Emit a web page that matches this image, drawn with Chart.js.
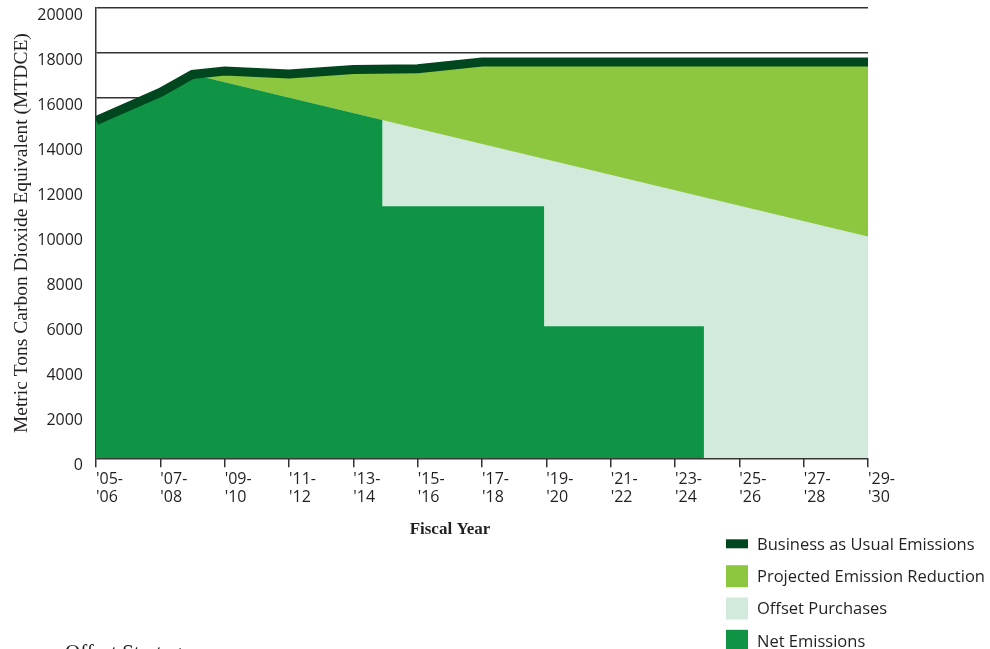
<!DOCTYPE html>
<html><head><meta charset="utf-8">
<script src="https://cdn.jsdelivr.net/npm/chart.js@4.4.1/dist/chart.umd.min.js"></script>
<style>
html,body{margin:0;padding:0;background:#fff;overflow:hidden;}
#wrap{position:relative;width:990px;height:649px;}
#heading{position:absolute;left:65px;top:642px;font:21px/1 "Liberation Serif",serif;color:#231f20;white-space:nowrap;}
</style></head><body>
<div id="wrap"><canvas id="c"></canvas><div id="heading">Offset Strategy</div></div>
<script>
// ---- tick labels ----
const tickYears  = [2005,2007,2009,2011,2013,2015,2017,2019,2021,2023,2025,2027,2029];
const tickLabels = ["'05-'06","'07-'08","'09-'10","'11-'12","'13-'14","'15-'16","'17-'18","'19-'20","'21-'22","'23-'24","'25-'26","'27-'28","'29-'30"];
const yTickValues = [0,2000,4000,6000,8000,10000,12000,14000,16000,18000,20000];

// ---- series (fiscal year start, MTDCE) ----
const bauYears  = [2005, 2007, 2008, 2009, 2011, 2013, 2015, 2017, 2029];
const bauValues = [15000, 16250, 17050, 17200, 17070, 17270, 17300, 17600, 17600];

const reductionPathYears  = [2005, 2007, 2008, 2029];
const reductionPathValues = [15000, 16250, 17050, 9850];

const netYears  = [2005, 2007, 2008, 2013.9, 2013.9, 2018.93, 2018.93, 2023.9, 2023.9];
const netValues = [15000, 16250, 17050, 15030, 11200, 11200, 5870, 5870, 0];

const seriesNames  = ['Business as Usual Emissions','Projected Emission Reduction','Offset Purchases','Net Emissions'];
const seriesColors = ['#00461e','#8dc63f','#d2eadc','#0f9345'];

const yAxisTitle = 'Metric Tons Carbon Dioxide Equivalent (MTDCE)';
const xAxisTitle = 'Fiscal Year';

const pts = (xs, ys) => xs.map((x, i) => ({x, y: ys[i]}));

const customDraw = {
  id: 'customDraw',
  afterDraw(chart) {
    const ctx = chart.ctx;
    ctx.save();
    ctx.fillStyle = '#231f20';
    ctx.font = 'bold 17px "Liberation Serif"';
    ctx.textAlign = 'center';
    ctx.textBaseline = 'middle';
    ctx.fillText(xAxisTitle, 450, 530);
    // legend
    const rows = [543.8, 576.2, 608.5, 640.8];
    const heights = [9, 22, 22, 22];
    ctx.font = '16.5px "Open Sans"';
    ctx.textAlign = 'left';
    seriesNames.forEach((name, i) => {
      ctx.fillStyle = seriesColors[i];
      ctx.fillRect(726, rows[i] - heights[i] / 2, 22, heights[i]);
      ctx.fillStyle = '#231f20';
      ctx.fillText(name, 757, rows[i] + 1);
    });
    ctx.restore();
  }
};

new Chart(document.getElementById('c'), {
  type: 'line',
  data: {
    datasets: [
      { label: seriesNames[0], data: pts(bauYears, bauValues), borderColor: seriesColors[0], backgroundColor: seriesColors[0],
        borderWidth: 9, fill: false, pointRadius: 0, tension: 0, borderJoinStyle: 'miter', borderCapStyle: 'butt' },
      { label: seriesNames[3], data: pts(netYears, netValues), backgroundColor: seriesColors[3],
        borderWidth: 0, fill: 'origin', pointRadius: 0, tension: 0 },
      { label: seriesNames[2], data: pts(reductionPathYears, reductionPathValues), backgroundColor: seriesColors[2],
        borderWidth: 0, fill: 'origin', pointRadius: 0, tension: 0 },
      { label: seriesNames[1], data: pts(bauYears, bauValues), backgroundColor: seriesColors[1],
        borderWidth: 0, fill: 'origin', pointRadius: 0, tension: 0 }
    ]
  },
  options: {
    responsive: true,
    maintainAspectRatio: false,
    animation: false,
    layout: { padding: { top: 8, left: 0, right: 122, bottom: 0 } },
    plugins: { legend: { display: false }, tooltip: { enabled: false } },
    scales: {
      x: {
        type: 'linear', min: 2005, max: 2029,
        afterBuildTicks: (s) => { s.ticks = tickYears.map(v => ({value: v})); },
        afterFit: (s) => { s.height = 649 - 458.3; },
        ticks: {
          align: 'start', padding: 3, color: '#231f20', autoSkip: false, maxRotation: 0,
          font: { family: 'Open Sans', size: 16, lineHeight: 1.15 },
          callback: (v) => { const i = tickYears.indexOf(v); if (i < 0) return ''; const t = tickLabels[i]; return [t.slice(0, 4), t.slice(4)]; }
        },
        grid: { drawOnChartArea: false, drawTicks: true, tickLength: 9, color: '#333', lineWidth: 1.5 },
        border: { display: false }
      },
      y: {
        min: 0, max: 20000,
        afterBuildTicks: (s) => { s.ticks = yTickValues.map(v => ({value: v})); },
        afterFit: (s) => { s.width = 96; s.paddingTop = 0; s.paddingBottom = 0; },
        ticks: { padding: 13, labelOffset: 7, color: '#231f20', font: { family: 'Open Sans', size: 16, lineHeight: 1 },
                 callback: (v) => String(v) },
        grid: { drawTicks: false, color: '#333', lineWidth: 1.5 },
        border: { display: true, color: '#333', width: 1.5 },
        title: { display: true, text: yAxisTitle, color: '#231f20', padding: { top: 10, bottom: 0 },
                 font: { family: 'Liberation Serif', size: 19.5, lineHeight: 1.2 } }
      }
    }
  },
  plugins: [customDraw]
});
</script>
</body></html>
